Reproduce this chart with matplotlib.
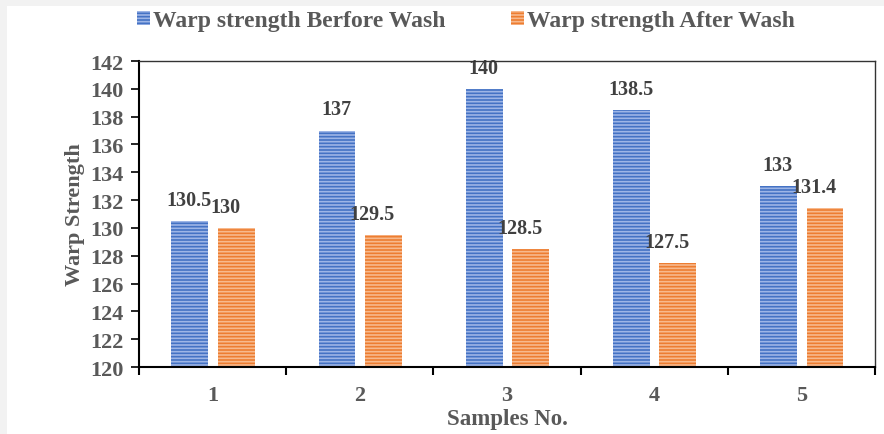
import matplotlib
matplotlib.use("Agg")
import matplotlib.pyplot as plt
import numpy as np
from matplotlib.patches import Rectangle

samples = ["1", "2", "3", "4", "5"]
before = [130.5, 137, 140, 138.5, 133]
after = [130, 129.5, 128.5, 127.5, 131.4]
before_labels = ["130.5", "137", "140", "138.5", "133"]
after_labels = ["130", "129.5", "128.5", "127.5", "131.4"]

plt.rcParams['font.family'] = ['Liberation Serif', 'DejaVu Serif']
plt.rcParams['hatch.linewidth'] = 1.2
txt = '#595959'

fig = plt.figure(figsize=(8.84, 4.35), dpi=100, facecolor='#f2f2f2')
fig.patches.append(Rectangle((7/884, 0), 1, 428/435, transform=fig.transFigure,
                             facecolor='white', edgecolor='none', zorder=-5))
ax = fig.add_axes([139/884, 67/435, 736/884, 306/435])
ax.set_facecolor('none')

x = np.arange(len(samples))
w = 0.25
b1 = ax.bar(x - 0.155, before, w, color='#4472C4', edgecolor='#9db5e6',
            linewidth=0, hatch='-----', label='Warp strength Berfore Wash')
b2 = ax.bar(x + 0.16, after, w, color='#ED7D31', edgecolor='#f7b98d',
            linewidth=0, hatch='-----', label='Warp strength After Wash')

for xi, v, s in zip(x - 0.16, before, before_labels):
    ax.text(xi, v + 0.8, s, ha='center', va='bottom', fontsize=14.5, fontweight='bold',
            color='#404040', zorder=2)
for xi, v, s in zip(x + 0.085, after, after_labels):
    ax.text(xi, v + 0.8, s, ha='center', va='bottom', fontsize=14.5, fontweight='bold',
            color='#404040', zorder=2)

ax.set_ylim(120, 142)
ax.set_yticks(np.arange(120, 143, 2))
ax.set_xlim(-0.5, 4.5)
ax.set_xticks(x)
ax.set_xticklabels(samples)
ax.set_xticks(np.arange(-0.5, 5, 1), minor=True)
ax.tick_params(axis='x', which='major', length=0, pad=13, labelsize=16, labelcolor=txt)
ax.tick_params(axis='x', which='minor', length=6, width=1.5, direction='out', color='black')
ax.tick_params(axis='y', length=6, width=1.2, labelsize=16, labelcolor=txt, pad=5)
for lab in ax.get_xticklabels() + ax.get_yticklabels():
    lab.set_fontweight('bold')

ax.spines['left'].set_linewidth(1.5)
ax.spines['bottom'].set_linewidth(1.5)
for s in ('top', 'right'):
    ax.spines[s].set_linewidth(1.0)
    ax.spines[s].set_color('#333333')

ax.set_ylabel('Warp Strength', fontsize=16, fontweight='bold', color=txt, labelpad=4)
ax.set_xlabel('Samples No.', fontsize=16.5, fontweight='bold', color=txt, labelpad=2)

leg = fig.legend(handles=[b1, b2], loc='center', bbox_to_anchor=(466/884, 1 - 22/435), ncol=2,
                 frameon=False, fontsize=17, handlelength=0.55, handleheight=0.55,
                 handletextpad=0.1, columnspacing=2.8)
for t in leg.get_texts():
    t.set_fontweight('bold')
    t.set_color(txt)

fig.savefig('out.png', dpi=100, facecolor=fig.get_facecolor())
